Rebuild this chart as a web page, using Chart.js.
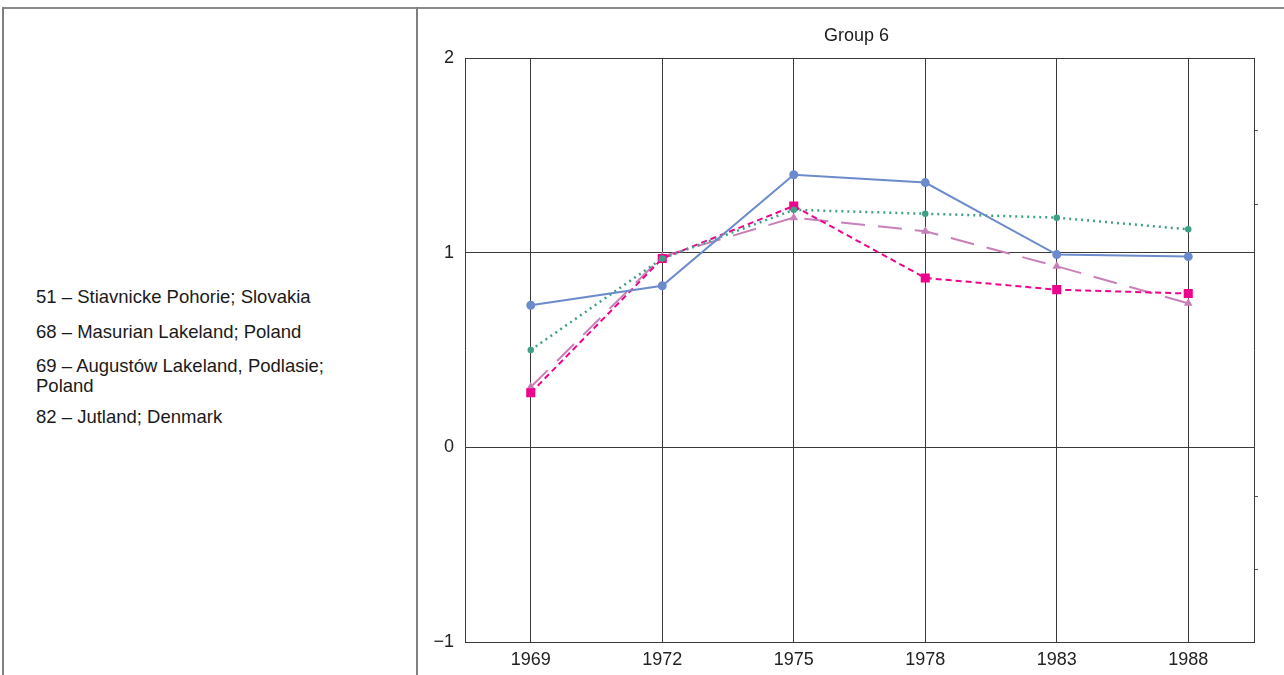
<!DOCTYPE html>
<html>
<head>
<meta charset="utf-8">
<script src="https://cdn.jsdelivr.net/npm/chart.js@4/dist/chart.umd.min.js"></script>
<style>
  html, body { margin: 0; padding: 0; background: #fff; }
  body { width: 1284px; height: 675px; position: relative; overflow: hidden;
         font-family: "Liberation Sans", Arial, sans-serif; }
  .hline { position: absolute; left: 3px; top: 7px; width: 1281px; height: 2px; background: #8a8a8a; }
  .vline { position: absolute; top: 7px; width: 2px; height: 668px; background: #7f7f7f; }
  #legend { position: absolute; left: 36px; top: 287px; width: 310px; color: #1a1a1a;
            font-size: 18.5px; line-height: 20px; }
  #legend div:nth-child(1) { margin-bottom: 15px; }
  #legend div:nth-child(2) { margin-bottom: 14px; }
  #legend div:nth-child(3) { margin-bottom: 11px; }
  canvas { position: absolute; left: 0; top: 0; }
</style>
</head>
<body>
<div class="hline"></div>
<div class="vline" style="left:2px"></div>
<div class="vline" style="left:416px"></div>
<div id="legend"></div>
<canvas id="c" width="1284" height="675"></canvas>
<script>
// ---- data ----
const chartTitle = "Group 6";
const years = ["1969", "1972", "1975", "1978", "1983", "1988"];
const seriesNames = [
  "51 – Stiavnicke Pohorie; Slovakia",
  "68 – Masurian Lakeland; Poland",
  "69 – Augustów Lakeland, Podlasie; Poland",
  "82 – Jutland; Denmark"
];
const s51 = [0.73, 0.83, 1.40, 1.36, 0.99, 0.98];
const s68 = [0.50, 0.97, 1.22, 1.20, 1.18, 1.12];
const s69 = [0.28, 0.97, 1.24, 0.87, 0.81, 0.79];
const s82 = [0.31, 0.98, 1.18, 1.11, 0.93, 0.74];
const yTicks = [-1, 0, 1, 2];
const rightMinorTicks = [1.63, 1.25, -0.25, -0.63];

// legend text (no swatches in the reference)
const leg = document.getElementById('legend');
seriesNames.forEach(n => { const d = document.createElement('div'); d.textContent = n; leg.appendChild(d); });

const FONT = "'Liberation Sans', Arial, sans-serif";
const gridCol = '#3a3a3a';

const titlePlugin = {
  id: 'centerTitle',
  afterDraw(chart) {
    const ctx = chart.ctx, a = chart.chartArea;
    ctx.save();
    ctx.font = "18px " + FONT;
    ctx.fillStyle = '#1a1a1a';
    ctx.textAlign = 'center';
    ctx.textBaseline = 'middle';
    ctx.fillText(chartTitle, (a.left + a.right) / 2 - 3, 36);
    ctx.restore();
  }
};

new Chart(document.getElementById('c'), {
  type: 'line',
  data: {
    labels: years,
    datasets: [
      { label: seriesNames[0], data: s51, borderColor: '#6b8bcc', backgroundColor: '#6b8bcc',
        borderWidth: 2, pointStyle: 'circle', pointRadius: 3.5, tension: 0 },
      { label: seriesNames[1], data: s68, borderColor: '#3f9f87', backgroundColor: '#3f9f87',
        borderWidth: 2.5, borderDash: [2, 4], pointStyle: 'circle', pointRadius: 2, tension: 0 },
      { label: seriesNames[2], data: s69, borderColor: '#ec058c', backgroundColor: '#ec058c',
        borderWidth: 2, borderDash: [6, 4], pointStyle: 'rect', pointRadius: 5, tension: 0 },
      { label: seriesNames[3], data: s82, borderColor: '#c880b8', backgroundColor: '#c880b8',
        borderWidth: 2, borderDash: [24, 13], pointStyle: 'triangle', pointRadius: 3, tension: 0 }
    ]
  },
  options: {
    responsive: false,
    animation: false,
    layout: { padding: { left: 420, right: 26, top: 58, bottom: 0 } },
    plugins: { legend: { display: false }, title: { display: false }, tooltip: { enabled: false } },
    scales: {
      x: {
        offset: true,
        grid: { offset: false, color: gridCol, lineWidth: 1, drawTicks: false },
        border: { display: true, color: gridCol, width: 1 },
        ticks: { color: '#222', font: { family: FONT, size: 18 }, padding: 7, maxRotation: 0 },
        afterFit(s) { s.height = 33; }
      },
      y: {
        min: -1, max: 2,
        afterBuildTicks(axis) { axis.ticks = yTicks.map(v => ({ value: v })); },
        grid: { color: gridCol, lineWidth: 1, drawTicks: false },
        border: { display: true, color: gridCol, width: 1 },
        ticks: { color: '#222', font: { family: FONT, size: 18 }, padding: 11,
                 callback: v => (v < 0 ? '\u2212' + Math.abs(v) : String(v)) },
        afterFit(s) { s.width = 45; }
      },
      y2: {
        position: 'right',
        min: -1, max: 2,
        afterBuildTicks(axis) { axis.ticks = rightMinorTicks.map(v => ({ value: v })); },
        grid: { drawOnChartArea: false, drawTicks: true, tickLength: 4, color: '#555' },
        border: { display: true, color: gridCol, width: 1 },
        ticks: { display: false },
        afterFit(s) { s.width = 4; }
      }
    }
  },
  plugins: [titlePlugin]
});
</script>
</body>
</html>
